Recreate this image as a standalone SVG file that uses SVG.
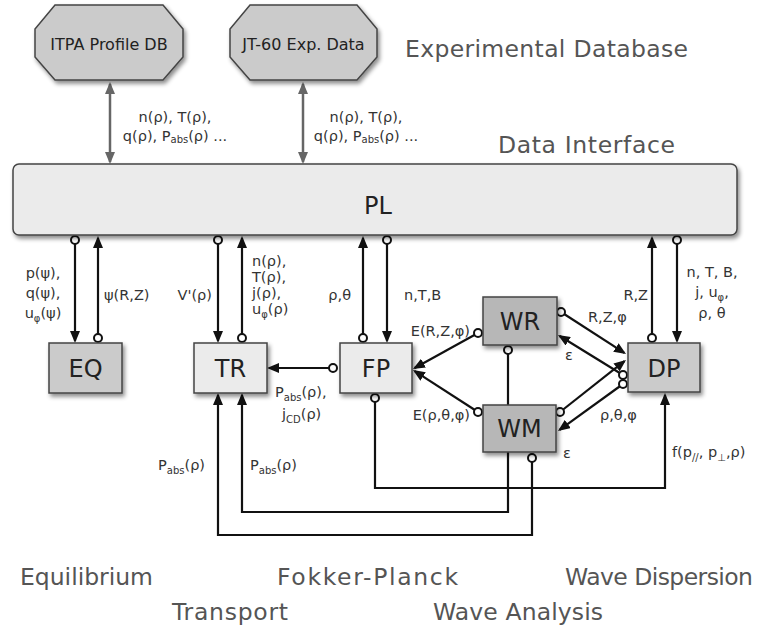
<svg xmlns="http://www.w3.org/2000/svg" width="764" height="630" viewBox="0 0 764 630">
<style>
.lbl{font-family:"DejaVu Sans","Liberation Sans",sans-serif;font-size:14.5px;fill:#333}
.big{font-family:"DejaVu Sans","Liberation Sans",sans-serif;font-size:23.5px;fill:#555}
.nt{font-family:"DejaVu Sans","Liberation Sans",sans-serif;font-size:24px;fill:#222;text-anchor:middle}
.ot{font-family:"DejaVu Sans","Liberation Sans",sans-serif;font-size:16px;fill:#222;text-anchor:middle}
.box{stroke:#444;stroke-width:1.5;filter:url(#sh)}
.light{fill:#ebebeb}
.mid{fill:#cbcbcb}
.dark{fill:#b7b7b7}
.c{fill:none;stroke:#111;stroke-width:2.2}
.g{fill:none;stroke:#666;stroke-width:2.5}
.m{text-anchor:middle}
.e{text-anchor:end}
</style>
<defs>
<filter id="sh" x="-20%" y="-20%" width="140%" height="150%">
<feDropShadow dx="2" dy="3" stdDeviation="2" flood-color="#000" flood-opacity="0.45"/>
</filter>
<marker id="ah" markerWidth="12" markerHeight="10" refX="10" refY="5" orient="auto" markerUnits="userSpaceOnUse">
<path d="M0,0 L12,5 L0,10 z" fill="#111"/>
</marker>
<marker id="gah" markerWidth="12" markerHeight="10" refX="10" refY="5" orient="auto-start-reverse" markerUnits="userSpaceOnUse">
<path d="M0,0 L12,5 L0,10 z" fill="#666"/>
</marker>
<marker id="dot" markerWidth="12" markerHeight="12" refX="6" refY="6" markerUnits="userSpaceOnUse">
<circle cx="6" cy="6" r="4" fill="#fff" stroke="#111" stroke-width="2"/>
</marker>
</defs>
<rect width="764" height="630" fill="#fff"/>

<g id="connectors">
<path class="g" d="M110,84 V162" marker-start="url(#gah)" marker-end="url(#gah)"/>
<path class="g" d="M303,84 V162" marker-start="url(#gah)" marker-end="url(#gah)"/>
<path class="c" d="M75,240 V341" marker-start="url(#dot)" marker-end="url(#ah)"/>
<path class="c" d="M98,338 V238" marker-start="url(#dot)" marker-end="url(#ah)"/>
<path class="c" d="M218,240 V341" marker-start="url(#dot)" marker-end="url(#ah)"/>
<path class="c" d="M242,338 V238" marker-start="url(#dot)" marker-end="url(#ah)"/>
<path class="c" d="M363,338 V238" marker-start="url(#dot)" marker-end="url(#ah)"/>
<path class="c" d="M387,240 V341" marker-start="url(#dot)" marker-end="url(#ah)"/>
<path class="c" d="M652,338 V238" marker-start="url(#dot)" marker-end="url(#ah)"/>
<path class="c" d="M677,240 V341" marker-start="url(#dot)" marker-end="url(#ah)"/>
<path class="c" d="M333,368 H269" marker-start="url(#dot)" marker-end="url(#ah)"/>
<path class="c" d="M478,333 L414.7,368" marker-start="url(#dot)" marker-end="url(#ah)"/>
<path class="c" d="M478,412 L414.7,371.1" marker-start="url(#dot)" marker-end="url(#ah)"/>
<path class="c" d="M561,312 L624.3,352.9" marker-start="url(#dot)" marker-end="url(#ah)"/>
<path class="c" d="M623,375 L559.7,336" marker-start="url(#dot)" marker-end="url(#ah)"/>
<path class="c" d="M560,412 L624.4,361.2" marker-start="url(#dot)" marker-end="url(#ah)"/>
<path class="c" d="M623,384 L559.6,429.8" marker-start="url(#dot)" marker-end="url(#ah)"/>
<path class="c" d="M508,350 V512 H242 V395" marker-start="url(#dot)" marker-end="url(#ah)"/>
<path class="c" d="M532,458 V535 H218 V395" marker-start="url(#dot)" marker-end="url(#ah)"/>
<path class="c" d="M375,398 V488 H665 V395" marker-start="url(#dot)" marker-end="url(#ah)"/>
</g>

<g id="node-itpa">
<polygon class="box mid" points="55,5 163,5 183,29 183,57 163,80 55,80 35,57 35,29"/>
<text class="ot" x="109" y="50">ITPA Profile DB</text>
</g>
<g id="node-jt60">
<polygon class="box mid" points="250,5 357,5 377,29 377,57 357,80 250,80 230,57 230,29"/>
<text class="ot" x="303.5" y="50">JT-60 Exp. Data</text>
</g>
<g id="node-pl">
<rect class="box light" x="13" y="164" width="724" height="71" rx="6"/>
<text class="nt" x="378" y="214">PL</text>
</g>
<g id="node-eq">
<rect class="box mid" x="49" y="343" width="73" height="50"/>
<text class="nt" x="85.5" y="377">EQ</text>
</g>
<g id="node-tr">
<rect class="box light" x="194" y="343" width="73" height="50"/>
<text class="nt" x="230.5" y="377">TR</text>
</g>
<g id="node-fp">
<rect class="box light" x="340" y="343" width="72" height="50"/>
<text class="nt" x="376" y="377">FP</text>
</g>
<g id="node-wr">
<rect class="box dark" x="483" y="297" width="74" height="48"/>
<text class="nt" x="520" y="330">WR</text>
</g>
<g id="node-wm">
<rect class="box dark" x="483" y="405" width="73" height="47"/>
<text class="nt" x="519.5" y="437">WM</text>
</g>
<g id="node-dp">
<rect class="box mid" x="628" y="343" width="72" height="49"/>
<text class="nt" x="664" y="377">DP</text>
</g>

<g id="labels">
<text class="lbl m" x="175" y="122">n(ρ), T(ρ),</text>
<text class="lbl m" x="175" y="141">q(ρ), P<tspan font-size="10" dy="2">abs</tspan><tspan dy="-2">(ρ) ...</tspan></text>
<text class="lbl m" x="366" y="122">n(ρ), T(ρ),</text>
<text class="lbl m" x="366" y="141">q(ρ), P<tspan font-size="10" dy="2">abs</tspan><tspan dy="-2">(ρ) ...</tspan></text>

<text class="lbl m" x="43" y="278">p(ψ),</text>
<text class="lbl m" x="43" y="298">q(ψ),</text>
<text class="lbl m" x="43" y="318">u<tspan font-size="10" dy="4">φ</tspan><tspan dy="-4">(ψ)</tspan></text>
<text class="lbl" x="104" y="300">ψ(R,Z)</text>

<text class="lbl e" x="212" y="300">V'(ρ)</text>
<text class="lbl" x="252" y="266">n(ρ),</text>
<text class="lbl" x="252" y="282">T(ρ),</text>
<text class="lbl" x="252" y="298">j(ρ),</text>
<text class="lbl" x="252" y="314">u<tspan font-size="10" dy="4">φ</tspan><tspan dy="-4">(ρ)</tspan></text>

<text class="lbl e" x="351" y="300">ρ,θ</text>
<text class="lbl" x="404" y="300">n,T,B</text>

<text class="lbl e" x="648" y="300">R,Z</text>
<text class="lbl m" x="712" y="277">n, T, B,</text>
<text class="lbl m" x="712" y="297">j, u<tspan font-size="10" dy="4">φ</tspan><tspan dy="-4">,</tspan></text>
<text class="lbl m" x="712" y="318">ρ, θ</text>

<text class="lbl e" x="470" y="336">E(R,Z,φ)</text>
<text class="lbl e" x="470" y="420">E(ρ,θ,φ)</text>

<text class="lbl" x="275" y="397">P<tspan font-size="10" dy="4">abs</tspan><tspan dy="-4">(ρ),</tspan></text>
<text class="lbl" x="282" y="419">j<tspan font-size="10" dy="4">CD</tspan><tspan dy="-4">(ρ)</tspan></text>

<text class="lbl" x="588" y="322">R,Z,φ</text>
<text class="lbl" x="565" y="360">ε</text>
<text class="lbl" x="600" y="420">ρ,θ,φ</text>
<text class="lbl" x="563" y="458">ε</text>

<text class="lbl e" x="205" y="470">P<tspan font-size="10" dy="4">abs</tspan><tspan dy="-4">(ρ)</tspan></text>
<text class="lbl" x="250" y="470">P<tspan font-size="10" dy="4">abs</tspan><tspan dy="-4">(ρ)</tspan></text>
<text class="lbl" x="672" y="457">f(p<tspan font-size="10" dy="4">//</tspan><tspan dy="-4">, p</tspan><tspan font-size="10" dy="4">⊥</tspan><tspan dy="-4">,ρ)</tspan></text>

<text class="big" x="405" y="57" textLength="283">Experimental Database</text>
<text class="big" x="498" y="153" textLength="177">Data Interface</text>
<text class="big" x="20" y="585" textLength="133">Equilibrium</text>
<text class="big" x="172" y="620" textLength="116">Transport</text>
<text class="big" x="277" y="585" textLength="181">Fokker-Planck</text>
<text class="big" x="433" y="620" textLength="170">Wave Analysis</text>
<text class="big" x="565" y="585" textLength="188">Wave Dispersion</text>
</g>
</svg>
